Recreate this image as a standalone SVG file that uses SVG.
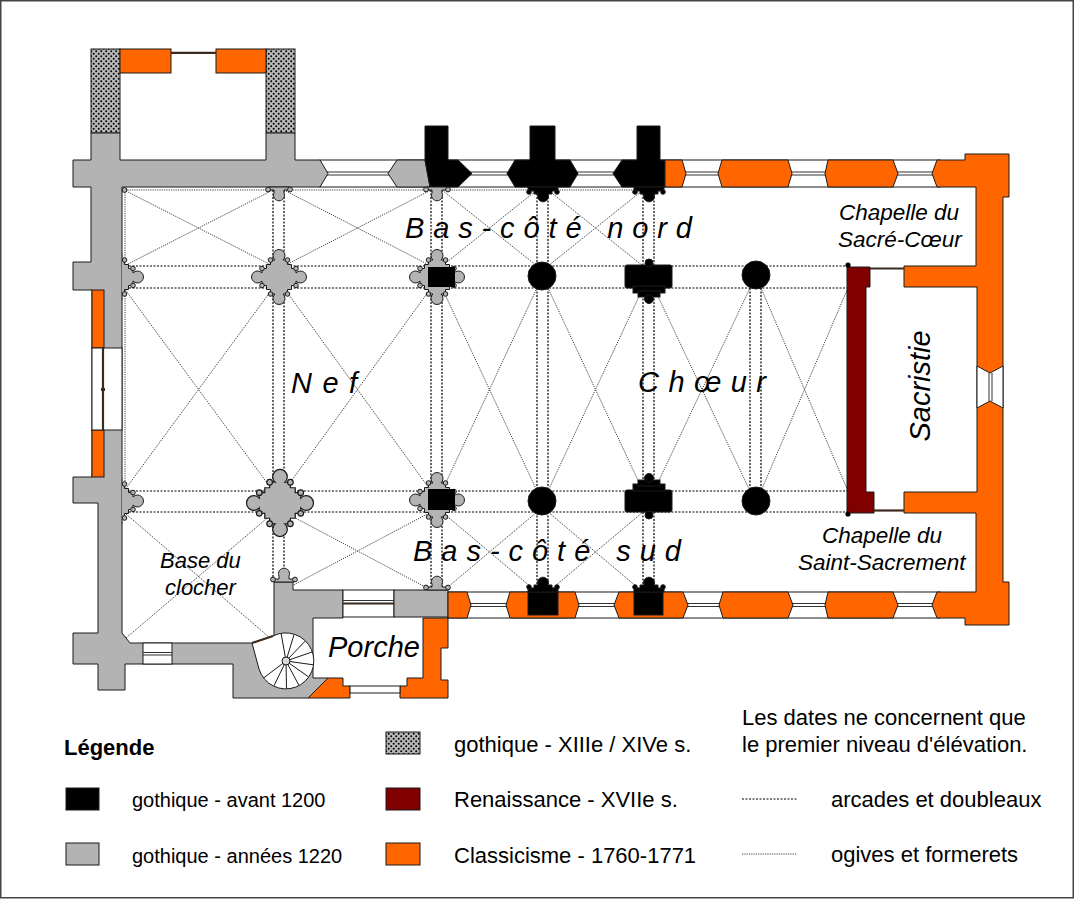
<svg xmlns="http://www.w3.org/2000/svg" width="1074" height="900" viewBox="0 0 1074 900">
<defs>
<style>
.w{stroke:#1a1a1a;stroke-width:1;stroke-linejoin:miter}
.g{fill:#b3b3b3}
.o{fill:#ff6600}
.k{fill:#000}
.r{fill:#800000}
.wh{fill:#fff}
.arc{fill:none;stroke:#000;stroke-width:1.2;stroke-dasharray:2 1.5}
.ogi{fill:none;stroke:#2a2a2a;stroke-width:0.9;stroke-dasharray:1.2 1.1}
.dbl{stroke:#333;stroke-width:1;fill:none}
.dark{stroke:#3b2b1e;stroke-width:2.2;fill:none}
.lbl{font-family:"Liberation Sans",Arial,sans-serif;font-style:italic;fill:#000}
.leg{font-family:"Liberation Sans",Arial,sans-serif;fill:#000}
</style>
<pattern id="stip" width="5" height="5" patternUnits="userSpaceOnUse">
<rect width="5" height="5" fill="#b8b8b8"/>
<circle cx="1.2" cy="1.2" r="1" fill="#000"/>
<circle cx="3.7" cy="3.7" r="1" fill="#000"/>
</pattern>
<clipPath id="clipW" clipPathUnits="userSpaceOnUse"><rect x="122" y="0" width="100" height="900"/></clipPath>
<g id="pierG">
<path class="w g" d="M-4,-17 A6,6 0 1 1 4,-17 L8.5,-17 L8.5,-12.5 L12.5,-12.5 L12.5,-8.5 L17,-8.5 L17,-4 A6,6 0 1 1 17,4 L17,8.5 L12.5,8.5 L12.5,12.5 L8.5,12.5 L8.5,17 L4,17 A6,6 0 1 1 -4,17 L-8.5,17 L-8.5,12.5 L-12.5,12.5 L-12.5,8.5 L-17,8.5 L-17,4 A6,6 0 1 1 -17,-4 L-17,-8.5 L-12.5,-8.5 L-12.5,-12.5 L-8.5,-12.5 L-8.5,-17 Z"/>
<g class="w g">
<circle cx="8.5" cy="-17" r="2.3"/><circle cx="17" cy="-8.5" r="2.3"/>
<circle cx="17" cy="8.5" r="2.3"/><circle cx="8.5" cy="17" r="2.3"/>
<circle cx="-8.5" cy="17" r="2.3"/><circle cx="-17" cy="8.5" r="2.3"/>
<circle cx="-17" cy="-8.5" r="2.3"/><circle cx="-8.5" cy="-17" r="2.3"/>
</g>
</g>
<g id="respG">
<path class="w g" d="M-10,0 L-10,3 L-5,3 L-5,6 A5.5,5.5 0 1 0 5,6 L5,3 L10,3 L10,0 Z"/>
<circle class="w g" cx="-11" cy="2.5" r="2.4"/>
<circle class="w g" cx="11" cy="2.5" r="2.4"/>
</g>
<g id="respB">
<path class="w k" d="M-15,0 L-15,4 L-9,4 L-9,7 L-5,7 A5.5,5.5 0 1 0 5,7 L9,7 L9,4 L15,4 L15,0 Z"/>
<circle class="w k" cx="-14" cy="5" r="2.3"/>
<circle class="w k" cx="14" cy="5" r="2.3"/>
</g>
</defs>

<rect x="0.75" y="0.75" width="1072.5" height="897" fill="#fff" stroke="#444" stroke-width="1.5"/>

<g id="connectors">
<g class="arc">
<line x1="122" y1="266" x2="848" y2="266"/>
<line x1="122" y1="288" x2="848" y2="288"/>
<line x1="122" y1="491" x2="848" y2="491"/>
<line x1="122" y1="512" x2="848" y2="512"/>
<line x1="273" y1="190" x2="273" y2="582"/>
<line x1="284" y1="190" x2="284" y2="582"/>
<line x1="431" y1="190" x2="431" y2="590"/>
<line x1="442" y1="190" x2="442" y2="590"/>
<line x1="537" y1="190" x2="537" y2="592"/>
<line x1="548" y1="190" x2="548" y2="592"/>
<line x1="643" y1="190" x2="643" y2="592"/>
<line x1="654" y1="190" x2="654" y2="592"/>
<line x1="750" y1="288" x2="750" y2="491"/>
<line x1="761" y1="288" x2="761" y2="491"/>
</g>
<g class="ogi">
<line x1="125" y1="190" x2="654" y2="190"/>
<line x1="125" y1="190" x2="125" y2="491"/>
<line x1="124" y1="190" x2="273" y2="266"/><line x1="124" y1="266" x2="273" y2="190"/>
<line x1="284" y1="190" x2="431" y2="266"/><line x1="284" y1="266" x2="431" y2="190"/>
<line x1="442" y1="190" x2="537" y2="266"/><line x1="442" y1="266" x2="537" y2="190"/>
<line x1="548" y1="190" x2="643" y2="266"/><line x1="548" y1="266" x2="643" y2="190"/>
<line x1="124" y1="288" x2="273" y2="491"/><line x1="124" y1="491" x2="273" y2="288"/>
<line x1="284" y1="288" x2="431" y2="491"/><line x1="284" y1="491" x2="431" y2="288"/>
<line x1="442" y1="288" x2="537" y2="491"/><line x1="442" y1="491" x2="537" y2="288"/>
<line x1="548" y1="288" x2="643" y2="491"/><line x1="548" y1="491" x2="643" y2="288"/>
<line x1="654" y1="288" x2="750" y2="491"/><line x1="654" y1="491" x2="750" y2="288"/>
<line x1="761" y1="288" x2="848" y2="491"/><line x1="761" y1="491" x2="848" y2="288"/>
<line x1="126" y1="514" x2="270" y2="638"/><line x1="126" y1="638" x2="272" y2="514"/>
<line x1="284" y1="512" x2="431" y2="590"/><line x1="284" y1="590" x2="431" y2="512"/>
<line x1="442" y1="512" x2="537" y2="592"/><line x1="442" y1="592" x2="537" y2="512"/>
<line x1="548" y1="512" x2="643" y2="592"/><line x1="548" y1="592" x2="643" y2="512"/>
</g>
</g>

<g id="tower-north">
<rect class="w" fill="url(#stip)" x="91" y="49" width="29" height="84"/>
<rect class="w" fill="url(#stip)" x="266" y="49" width="29" height="84"/>
<rect class="w o" x="120" y="49" width="51" height="24"/>
<rect class="w o" x="216" y="49" width="50" height="24"/>
<line class="dark" x1="171" y1="52.8" x2="216" y2="52.8"/>
</g>

<g id="wall-bands">
<rect class="w wh" x="320" y="160" width="620" height="27"/>
<line class="dbl" x1="320" y1="172" x2="940" y2="172"/>
<line class="dbl" x1="320" y1="175" x2="940" y2="175"/>
<rect class="w wh" x="448" y="592" width="492" height="26"/>
<line class="dbl" x1="448" y1="603.5" x2="940" y2="603.5"/>
<line class="dbl" x1="448" y1="606.5" x2="940" y2="606.5"/>
</g>

<g id="west-gothic-1220">
<path class="w g" d="M73,160 L91,160 L91,133 L120,133 L120,160 L266,160 L266,133 L295,133 L295,160 L320,160 L328,173.5 L320,187 L122,187 L122,633 L130,643 L252,643 L274,636 L274,582 L293,582 L293,590 L343,590 L343,618 L313,618 L313,678 L328,678 L308,698 L233,698 L233,664 L125,664 L125,690 L98,690 L98,664 L73,664 L73,633 L98,633 L98,503 L73,503 L73,477 L92,477 L92,290 L73,290 L73,262 L91,262 L91,187 L73,187 Z"/>
<rect class="w o" x="92" y="290" width="12" height="58"/>
<rect class="w o" x="92" y="430" width="12" height="47"/>
<rect class="w wh" x="92" y="348" width="30" height="82"/>
<line class="dark" x1="103" y1="348" x2="103" y2="430"/>
<rect x="101" y="388" width="4" height="3" fill="#3b2b1e"/>
<rect class="w wh" x="143" y="643" width="29" height="21"/>
<line class="dbl" x1="143" y1="652.5" x2="172" y2="652.5"/>
<line class="dbl" x1="143" y1="655" x2="172" y2="655"/>
<rect class="w wh" x="343" y="590" width="51" height="27"/>
<line class="dbl" x1="343" y1="600.5" x2="394" y2="600.5"/>
<line class="dark" x1="343" y1="603.5" x2="394" y2="603.5"/>
<rect class="w g" x="394" y="590" width="54" height="27"/>
<path class="w g" d="M388,173.5 L397,160 L425,160 L430,187 L397,187 Z"/>
</g>

<g id="stair">
<path class="w wh" d="M252,643 L273,636 A28,28 0 1 1 259,669 Z"/>
<g stroke="#1a1a1a" stroke-width="1">
<line x1="286" y1="661" x2="281.2" y2="633.9"/>
<line x1="286" y1="661" x2="294" y2="634.7"/>
<line x1="286" y1="661" x2="305.1" y2="641.2"/>
<line x1="286" y1="661" x2="312" y2="652"/>
<line x1="286" y1="661" x2="313.2" y2="664.8"/>
<line x1="286" y1="661" x2="308.5" y2="676.8"/>
<line x1="286" y1="661" x2="298.9" y2="685.3"/>
<line x1="286" y1="661" x2="286.5" y2="688.5"/>
<line x1="286" y1="661" x2="274" y2="685.7"/>
<line x1="286" y1="661" x2="264" y2="677.6"/>
</g>
<circle class="w" fill="#d8d8d8" cx="286" cy="661" r="4"/>
<line class="dark" x1="252" y1="643" x2="273" y2="636"/>
</g>

<g id="north-gothic-1200">
<path class="w k" d="M425,126 L448,126 L448,160 L458,160 L472,173.5 L458,187 L430,187 L425,160 Z"/>
<path class="w k" d="M507,173.5 L515,160 L530,160 L530,126 L555,126 L555,160 L570,160 L578,173.5 L570,187 L515,187 Z"/>
<path class="w k" d="M613,173.5 L622,160 L637,160 L637,126 L660,126 L660,160 L665,160 L665,187 L622,187 Z"/>
</g>

<g id="classicism-walls">
<path class="w o" d="M665,160 L682,160 L686,173.5 L682,187 L665,187 Z"/>
<path class="w o" d="M718,173.5 L722,160 L788,160 L792,173.5 L788,187 L722,187 Z"/>
<path class="w o" d="M825,173.5 L828,160 L893,160 L898,173.5 L893,187 L828,187 Z"/>
<path class="w o" d="M932,173.5 L937,160 L965,160 L965,154 L1009,154 L1009,197 L1003,197 L1003,582 L1009,582 L1009,625 L965,625 L965,618 L937,618 L932,605 L937,592 L976,592 L976,513 L904,513 L904,492 L977,492 L977,287 L904,287 L904,266 L976,266 L976,187 L937,187 Z"/>
<path class="wh" d="M977,366 L990,373 L1003,366 L1003,408 L990,401 L977,408 Z"/>
<g class="w" fill="none">
<polyline points="977,366 990,373 1003,366"/>
<polyline points="977,408 990,401 1003,408"/>
<line x1="977" y1="366" x2="977" y2="408"/>
<line x1="1003" y1="366" x2="1003" y2="408"/>
</g>
<line class="dbl" x1="989" y1="373" x2="989" y2="401"/>
<line class="dbl" x1="992" y1="373" x2="992" y2="401"/>
<path class="w o" d="M448,592 L467,592 L471,605 L467,618 L448,618 Z"/>
<path class="w o" d="M506,605 L510,592 L575,592 L579,605 L575,618 L510,618 Z"/>
<path class="w o" d="M614,605 L619,592 L683,592 L688,605 L683,618 L619,618 Z"/>
<path class="w o" d="M719,605 L723,592 L788,592 L793,605 L788,618 L723,618 Z"/>
<path class="w o" d="M825,605 L828,592 L893,592 L898,605 L893,618 L828,618 Z"/>
<path class="w o" d="M423,618 L448,618 L448,648 L441,648 L441,680 L448,680 L448,698 L400,698 L400,686 L407,686 L407,678 L423,678 Z"/>
<path class="w o" d="M308,698 L328,678 L343,678 L343,686 L350,686 L350,698 Z"/>
<rect class="w wh" x="350" y="686" width="50" height="7"/>
</g>

<g id="south-gothic-1200">
<rect class="w k" x="528" y="592" width="30" height="23"/>
<rect class="w k" x="634" y="592" width="29" height="23"/>
</g>

<g id="renaissance">
<path class="w r" d="M847,267 L870,267 L870,287 L866,287 L866,492 L874,492 L874,513 L847,513 Z"/>
<line class="dark" x1="870" y1="268.5" x2="904" y2="268.5"/>
<line class="dark" x1="874" y1="510.5" x2="904" y2="510.5"/>
<circle cx="848" cy="265" r="2.6" fill="#000"/>
<circle cx="848" cy="514" r="2.6" fill="#000"/>
</g>

<g id="piers">
<g clip-path="url(#clipW)">
<use href="#pierG" x="116" y="277"/>
<use href="#pierG" x="116" y="501"/>
</g>
<circle class="w g" cx="124.5" cy="190" r="2.4"/>
<use href="#pierG" x="279" y="277"/>
<g transform="translate(280,503) scale(1.22)"><use href="#pierG"/></g>
<use href="#pierG" x="437" y="277"/>
<rect x="428" y="267" width="27" height="20" fill="#000"/>
<use href="#pierG" x="437" y="500"/>
<rect x="428" y="489" width="27" height="21" fill="#000"/>
<g class="w k">
<circle cx="542" cy="276" r="14"/>
<circle cx="756" cy="275" r="14"/>
<circle cx="542" cy="501" r="14"/>
<circle cx="756" cy="501" r="14"/>
<rect x="625" y="265" width="47" height="23" rx="2"/>
<rect x="633" y="286" width="32" height="7"/>
<rect x="638" y="291" width="22" height="6"/>
<circle cx="649" cy="299" r="4.5"/>
<circle cx="649" cy="263" r="4"/>
<rect x="625" y="490" width="47" height="22" rx="2"/>
<rect x="633" y="484" width="32" height="7"/>
<rect x="638" y="480" width="22" height="6"/>
<circle cx="649" cy="478" r="4.5"/>
<circle cx="649" cy="515" r="4"/>
</g>
<use href="#respG" x="279" y="187"/>
<use href="#respG" x="437" y="187"/>
<g transform="translate(284,582) scale(1,-1)"><use href="#respG"/></g>
<g transform="translate(437,590) scale(1,-1)"><use href="#respG"/></g>
<use href="#respB" x="543" y="187"/>
<use href="#respB" x="649" y="187"/>
<g transform="translate(543,592) scale(1,-1)"><use href="#respB"/></g>
<g transform="translate(649,592) scale(1,-1)"><use href="#respB"/></g>
</g>

<g id="labels" class="lbl">
<text x="405" y="238" font-size="29" textLength="287" lengthAdjust="spacing">Bas-côté nord</text>
<text x="413" y="561" font-size="29" textLength="268" lengthAdjust="spacing">Bas-côté sud</text>
<text x="291" y="393" font-size="29" textLength="66" lengthAdjust="spacing">Nef</text>
<text x="638" y="392" font-size="29" textLength="128" lengthAdjust="spacing">Chœur</text>
<text x="839" y="220" font-size="22.5">Chapelle du</text>
<text x="838" y="247" font-size="22.5">Sacré-Cœur</text>
<text x="822" y="543" font-size="22.5">Chapelle du</text>
<text x="798" y="570" font-size="22.5">Saint-Sacrement</text>
<text transform="translate(930,386) rotate(-90)" text-anchor="middle" font-size="29">Sacristie</text>
<text x="160" y="568" font-size="22">Base du</text>
<text x="165" y="595" font-size="22">clocher</text>
<text x="328" y="657" font-size="29">Porche</text>
</g>

<g id="legend" class="leg">
<text x="64" y="755" font-size="22" font-weight="bold">Légende</text>
<rect class="w k" x="66" y="788" width="33" height="22"/>
<text x="132" y="807" font-size="20">gothique - avant 1200</text>
<rect class="w g" x="66" y="843" width="33" height="22"/>
<text x="132" y="863" font-size="20">gothique - années 1220</text>
<rect class="w" fill="url(#stip)" x="386" y="732" width="34" height="22"/>
<text x="454" y="752" font-size="22">gothique - XIIIe / XIVe s.</text>
<rect class="w r" x="386" y="788" width="34" height="22"/>
<text x="454" y="807" font-size="22">Renaissance - XVIIe s.</text>
<rect class="w o" x="386" y="843" width="34" height="22"/>
<text x="454" y="863" font-size="22">Classicisme - 1760-1771</text>
<text x="742" y="725" font-size="22">Les dates ne concernent que</text>
<text x="742" y="752" font-size="22">le premier niveau d'élévation.</text>
<line class="arc" x1="742" y1="799" x2="797" y2="799" stroke-width="1"/>
<text x="831" y="807" font-size="22">arcades et doubleaux</text>
<line class="ogi" x1="742" y1="854" x2="797" y2="854" stroke-width="1"/>
<text x="831" y="862" font-size="22">ogives et formerets</text>
</g>
</svg>
